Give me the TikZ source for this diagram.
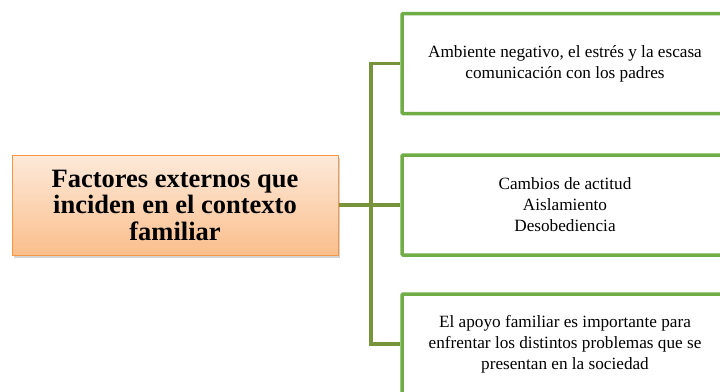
\documentclass[tikz,border=0pt]{standalone}
\usepackage{fontspec}
\setmainfont{Liberation Serif}
\usetikzlibrary{shadows}
\definecolor{trunkgreen}{HTML}{77933C}
\definecolor{boxgreen}{HTML}{70AD47}
\definecolor{orbord}{HTML}{F79646}
\definecolor{ortop}{HTML}{FDEADA}
\definecolor{orbot}{HTML}{FBBE8C}
\tikzset{
  mainbox/.style={draw=orbord, line width=1pt, top color=ortop, bottom color=orbot,
    drop shadow={opacity=0.35, shadow xshift=2pt, shadow yshift=-3pt},
    minimum width=326pt, minimum height=100pt, inner sep=0pt,
    align=center, font=\fontsize{26.5}{26.5}\selectfont\bfseries},
  leafbox/.style={draw=boxgreen, line width=3.5pt, fill=white, rounded corners=1pt,
    minimum width=326pt, minimum height=100pt, inner sep=0pt,
    align=center, font=\fontsize{17.2}{21}\selectfont},
  link/.style={draw=trunkgreen, line width=3.5pt},
}
\begin{document}
\begin{tikzpicture}[x=1pt,y=-1pt]
\useasboundingbox (0,0) rectangle (720,391);
\node[mainbox] (main) at (175,205) {Factores externos que\\inciden en el contexto\\familiar};
\node[leafbox] (a) at (565,63.5) {Ambiente negativo, el estrés y la escasa\\comunicación con los padres};
\node[leafbox] (b) at (565,205) {Cambios de actitud\\Aislamiento\\Desobediencia};
\node[leafbox] (c) at (565,344) {El apoyo familiar es importante para\\enfrentar los distintos problemas que se\\presentan en la sociedad};
\coordinate (j) at (371,205);
\draw[link] (main.east) -- (j);
\draw[link] (a.west) -| (j) |- (c.west);
\draw[link] (j) -- (b.west);
\end{tikzpicture}
\end{document}
